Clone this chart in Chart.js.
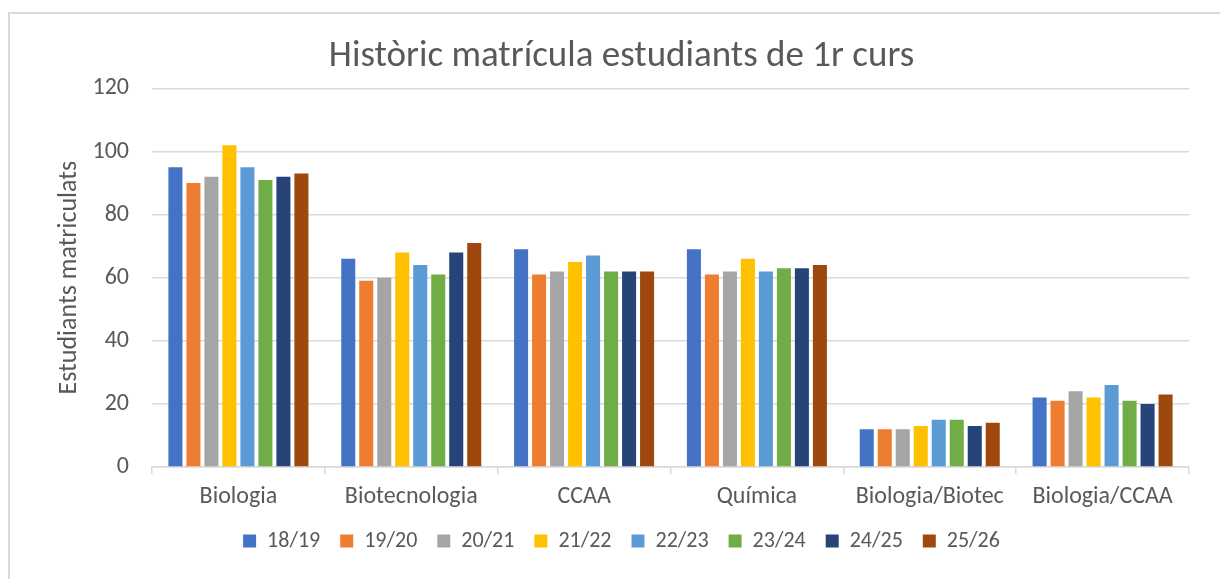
<!DOCTYPE html>
<html>
<head>
<meta charset="utf-8">
<script src="https://cdn.jsdelivr.net/npm/chart.js@4"></script>
<style>
  body { margin: 0; background: #fff; overflow: hidden; }
  #frame { position: absolute; left: 8px; top: 12px; width: 1240px; height: 600px; border: 2px solid #d9d9d9; box-sizing: border-box; }
  #wrap { position: absolute; left: 0; top: 0; width: 1220px; height: 579px; }
</style>
</head>
<body>
<div id="frame"></div>
<div id="wrap"><canvas id="chart" width="1220" height="579"></canvas></div>
<script>
// categories + one array per school year
const courses = ["Biologia", "Biotecnologia", "CCAA", "Química", "Biologia/Biotec", "Biologia/CCAA"];
const years = ["18/19", "19/20", "20/21", "21/22", "22/23", "23/24", "24/25", "25/26"];

const y1819 = [95, 66, 69, 69, 12, 22];
const y1920 = [90, 59, 61, 61, 12, 21];
const y2021 = [92, 60, 62, 62, 12, 24];
const y2122 = [102, 68, 65, 66, 13, 22];
const y2223 = [95, 64, 67, 62, 15, 26];
const y2324 = [91, 61, 62, 63, 15, 21];
const y2425 = [92, 68, 62, 63, 13, 20];
const y2526 = [93, 71, 62, 64, 14, 23];

const yTicks = [0, 20, 40, 60, 80, 100, 120];

const seriesValues = [y1819, y1920, y2021, y2122, y2223, y2324, y2425, y2526];
const barColors = ['#4472C4', '#ED7D31', '#A5A5A5', '#FFC000', '#5B9BD5', '#70AD47', '#264478', '#9E480E'];

const fontFamily = "Carlito, Calibri, Lato, sans-serif";
const textColor = '#595959';
const gridColor = '#d9d9d9';

let datasets = years.map((yr, i) => {
    return {
        label: yr,
        data: seriesValues[i],
        backgroundColor: barColors[i],
        borderWidth: 0,
        categoryPercentage: 0.833,
        barPercentage: 0.78
    };
});

var ctx = document.getElementById('chart').getContext('2d');
const enrolChart = new Chart(ctx, {
    type: 'bar',
    data: {
        labels: courses,
        datasets: datasets
    },
    options: {
        responsive: false,
        animation: false,
        layout: {
            padding: { left: 54, right: 31, top: 0, bottom: 17 }
        },
        plugins: {
            title: {
                display: true,
                text: 'Històric matrícula estudiants de 1r curs',
                color: textColor,
                font: { family: fontFamily, size: 37, weight: 'normal' },
                padding: { top: 35, bottom: 9 }
            },
            legend: {
                position: 'bottom',
                labels: {
                    color: textColor,
                    boxWidth: 13,
                    boxHeight: 13,
                    padding: 20,
                    font: { family: fontFamily, size: 22 }
                }
            },
            tooltip: { enabled: false }
        },
        scales: {
            x: {
                grid: {
                    offset: true,
                    drawOnChartArea: false,
                    drawTicks: true,
                    tickLength: 7,
                    color: gridColor,
                    lineWidth: 1.5
                },
                border: { display: true, color: gridColor, width: 1.5 },
                ticks: {
                    color: textColor,
                    padding: 9,
                    font: { family: fontFamily, size: 24 }
                },
                afterFit: function(scale) { scale.height = 43; }
            },
            y: {
                min: 0,
                max: 120,
                afterBuildTicks: function(scale) {
                    scale.ticks = yTicks.map(v => ({ value: v }));
                },
                grid: { color: gridColor, lineWidth: 1.5, drawTicks: false },
                border: { display: false },
                ticks: {
                    color: textColor,
                    padding: 23,
                    font: { family: fontFamily, size: 24 }
                },
                title: {
                    display: true,
                    text: 'Estudiants matriculats',
                    color: textColor,
                    font: { family: fontFamily, size: 26 },
                    padding: { top: 0, bottom: 0 }
                },
                afterFit: function(scale) { scale.width = 98; }
            }
        }
    }
});
</script>
</body>
</html>
